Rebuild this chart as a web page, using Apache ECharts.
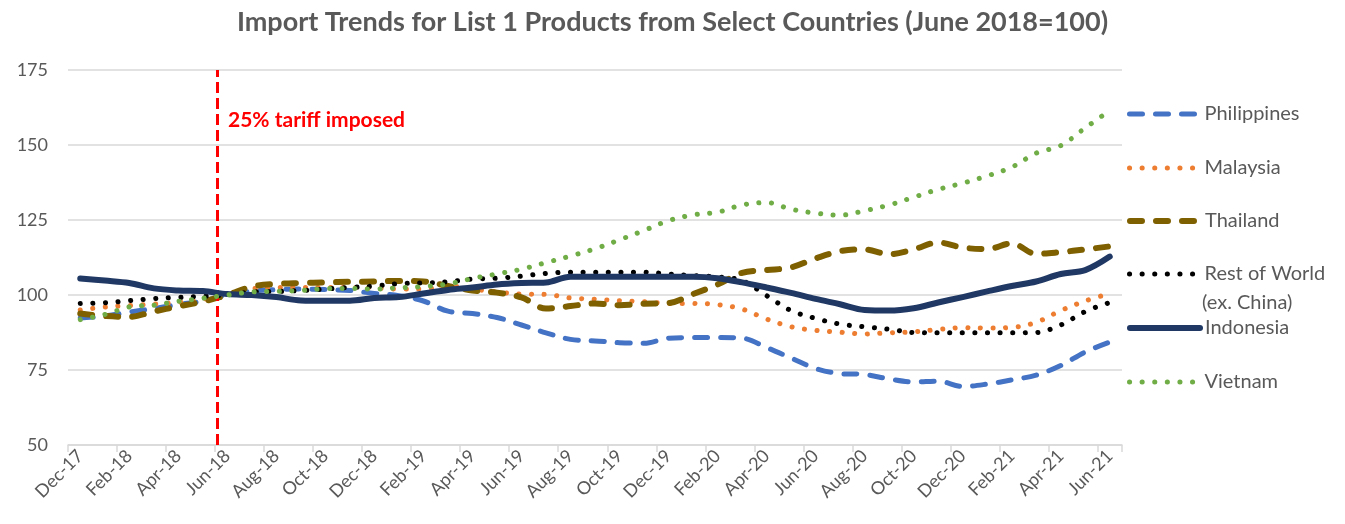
<!DOCTYPE html>
<html>
<head>
<meta charset="utf-8">
<script src="https://cdn.jsdelivr.net/npm/echarts@6/dist/echarts.min.js"></script>
<style>
html,body{margin:0;padding:0;background:#fff;}
#chart{width:1345px;height:524px;}
</style>
</head>
<body>
<div id="chart"></div>
<script>
const categories = ['Dec-17','Jan-18','Feb-18','Mar-18','Apr-18','May-18','Jun-18','Jul-18','Aug-18','Sep-18','Oct-18','Nov-18',
  'Dec-18','Jan-19','Feb-19','Mar-19','Apr-19','May-19','Jun-19','Jul-19','Aug-19','Sep-19','Oct-19','Nov-19',
  'Dec-19','Jan-20','Feb-20','Mar-20','Apr-20','May-20','Jun-20','Jul-20','Aug-20','Sep-20','Oct-20','Nov-20',
  'Dec-20','Jan-21','Feb-21','Mar-21','Apr-21','May-21','Jun-21'];

const philippines = [92.3,93,94.3,95.5,96.8,98,100,101.3,101.8,102,101.8,101.5,100.5,99.8,98,94.6,93.8,92.5,90,87.4,85.2,84.7,84.1,83.9,85.6,85.8,85.8,85.6,82.5,79,75.5,73.8,73.5,72,71,71.3,69.5,70.3,71.7,73.3,76.5,81,84.3];
const malaysia = [95,96,96.5,97,97.5,98.5,100,102,102.5,102.5,102.5,102.5,102.3,102,102,103,102,101,100.3,100.2,99,98.6,98.1,97.8,97.2,97.2,96.8,95.3,92,89.4,88.2,87.6,87,87.4,87.7,88.5,89.1,89,89.2,90.9,94.8,98,100.5];
const thailand = [93.8,93,92.7,94.5,96.2,97.8,100,102.8,103.7,104,104.2,104.4,104.5,104.7,104.5,103,101.5,100.8,99.2,95.5,96.3,97.2,96.6,97.1,97.3,100.3,103.5,107.4,108.3,109.2,112.2,114.6,115.2,113.6,115.2,117.5,115.8,115.3,117.2,113.7,114.3,115.2,116.2];
const restOfWorld = [97.2,97.4,98.1,98.8,99.2,99.6,100,101,101.2,101.5,102,102.5,103,103.8,104,104.4,105.3,105.6,106.3,107.2,107.6,107.6,107.6,107.6,107,106.5,106,104.8,99.8,94.8,92.2,90.3,89.4,88.6,87.5,87.4,87.4,87.4,87.4,87.5,90,94.5,97.5];
const indonesia = [105.5,104.8,104,102.2,101.5,101.3,100.3,100,99.3,98.2,98.1,98.1,99,99.3,100.5,101.7,102.5,103.5,104,104.2,106.1,106.1,106.1,106.1,106.1,106.1,105.6,104.2,102.5,100.7,98.7,96.9,95,94.8,95.6,97.5,99.3,101.2,103,104.5,107,108.3,112.8];
const vietnam = [91.8,93.5,96,96.6,97.9,98.9,100,101,101.2,101.5,102.1,102.2,102,102.4,102.8,103.7,105.5,107,108.6,110.8,113,115.4,118.4,121.5,124.8,126.7,127.6,130,130.8,128.6,127.3,126.6,128.1,130,132.6,135.2,137.3,139.7,142.6,147.3,149.8,155.7,161.5];

const seriesNames = ['Philippines','Malaysia','Thailand','Rest of World (ex. China)','Indonesia','Vietnam'];
const yTicks = [50, 75, 100, 125, 150, 175];
const tariffPosition = 5.6; // category-index position of the "25% tariff imposed" marker
const tariffLabel = '25% tariff imposed';
const titleText = 'Import Trends for List 1 Products from Select Countries (June 2018=100)';

const FONT = 'Lato, "Open Sans", sans-serif';
const GREY = '#595959';
const dot = [0.1, 12.5];

const styles = [
  {color:'#4472C4', width:5, type:[13,13]},
  {color:'#ED7D31', width:5, type:dot},
  {color:'#7F6000', width:6, type:[12,14]},
  {color:'#000000', width:5, type:dot},
  {color:'#203864', width:6, type:'solid'},
  {color:'#70AD47', width:5, type:dot}
];
const values = [philippines, malaysia, thailand, restOfWorld, indonesia, vietnam];

const legendCenters = [113, 167, 220, 273, 327, 381];
const legendLabels = ['Philippines','Malaysia','Thailand','Rest of World','Indonesia','Vietnam'];

const chart = echarts.init(document.getElementById('chart'));

const series = seriesNames.map((n, i) => ({
  name: n,
  type: 'line',
  data: values[i],
  smooth: 0.35,
  symbol: 'none',
  showSymbol: false,
  z: 2 + i,
  lineStyle: {color: styles[i].color, width: styles[i].width, type: styles[i].type, cap: 'round', join: 'round'},
  itemStyle: {color: styles[i].color}
}));

series.push({
  name: 'tariff',
  type: 'line',
  xAxisIndex: 1,
  data: [[tariffPosition, 100]],
  symbol: 'none',
  lineStyle: {opacity: 0},
  silent: true,
  z: 20,
  markLine: {
    symbol: 'none',
    silent: true,
    animation: false,
    label: {show: false},
    lineStyle: {color: '#FF0000', width: 3, type: [11, 5]},
    data: [{xAxis: tariffPosition}]
  }
});

const legends = seriesNames.map((n, i) => ({
  data: [n],
  left: 1127,
  top: legendCenters[i] - 9,
  padding: 0,
  itemWidth: 70,
  itemHeight: 14,
  itemGap: 5,
  formatter: () => legendLabels[i],
  itemStyle: {opacity: 0},
  lineStyle: {color: styles[i].color, width: styles[i].width, type: styles[i].type, cap: 'round'},
  textStyle: {fontFamily: FONT, fontSize: 20, color: GREY},
  selectedMode: false
}));

chart.setOption({
  animation: false,
  backgroundColor: '#fff',
  title: {
    text: titleText,
    left: 'center',
    top: 4,
    textStyle: {fontFamily: FONT, fontSize: 27, fontWeight: 'bold', color: GREY}
  },
  legend: legends,
  grid: {left: 68, right: 223, top: 70, bottom: 79, containLabel: false},
  xAxis: [{
    type: 'category',
    data: categories,
    boundaryGap: true,
    axisLine: {show: true, lineStyle: {color: '#D9D9D9', width: 1.5}},
    axisTick: {show: true, interval: 1, length: 7, lineStyle: {color: '#D9D9D9', width: 1.5}},
    axisLabel: {interval: 1, rotate: 45, margin: 8, fontFamily: FONT, fontSize: 18, color: GREY},
    splitLine: {show: false}
  }, {
    type: 'value',
    min: -0.5,
    max: categories.length - 0.5,
    show: false
  }],
  yAxis: {
    type: 'value',
    min: yTicks[0],
    max: yTicks[yTicks.length - 1],
    interval: 25,
    axisLine: {show: false},
    axisTick: {show: false},
    axisLabel: {margin: 20, fontFamily: FONT, fontSize: 18, color: GREY},
    splitLine: {lineStyle: {color: '#D9D9D9', width: 1.5}}
  },
  graphic: [
    {type: 'text', left: 228, top: 110, z: 30,
     style: {text: tariffLabel, fill: '#FF0000', font: 'bold 21px ' + FONT}},
    {type: 'text', left: 1202, top: 293, z: 30,
     style: {text: '(ex. China)', fill: GREY, font: '20px ' + FONT}}
  ],
  series: series
});
</script>
</body>
</html>
